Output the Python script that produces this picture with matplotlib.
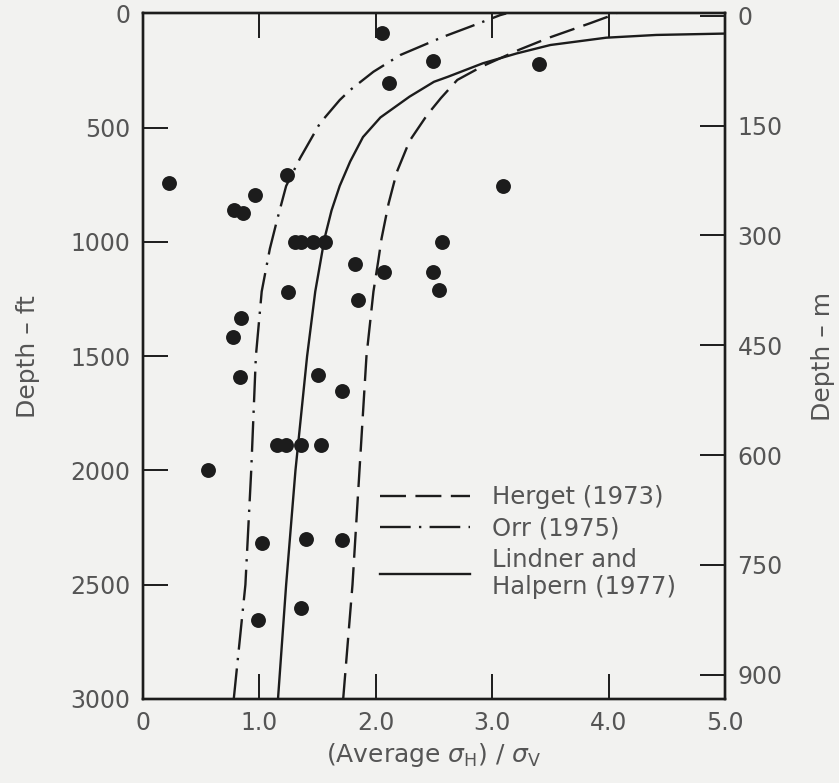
import matplotlib.pyplot as plt

plt.rcParams['font.family'] = ['DejaVu Sans']
plt.rcParams['mathtext.fontset'] = 'dejavusans'

# measured points: ratio (average sigma_H / sigma_V) and depth in ft
ratio = [2.05, 2.49, 2.11, 3.40, 0.22, 1.24, 3.09, 0.96, 0.78, 0.86,
         1.31, 1.36, 1.46, 1.56, 2.57, 1.82, 2.07, 2.49, 2.54, 1.25,
         1.85, 0.84, 0.77, 0.83, 1.50, 1.71, 1.15, 1.23, 1.36, 1.53,
         0.56, 1.02, 1.40, 1.71, 1.36, 0.99]
depth = [87, 208, 306, 221, 740, 707, 753, 794, 860, 875,
         1000, 1000, 1000, 1000, 1000, 1097, 1130, 1130, 1210, 1220,
         1253, 1333, 1416, 1593, 1583, 1650, 1889, 1889, 1889, 1889,
         2000, 2316, 2302, 2305, 2604, 2655]

# curves
herget_x = [1.72, 1.80, 1.86, 1.92, 1.98, 2.02, 2.05, 2.11, 2.18, 2.29, 2.44, 2.56,
            2.70, 2.92, 3.24, 3.50, 3.84, 4.07]
herget_z = [3000, 2500, 2000, 1500, 1217, 1087, 984, 832, 695, 558, 445, 370,
            291, 230, 157, 104, 43, 0]
orr_x = [0.78, 0.88, 0.93, 0.97, 1.02, 1.09, 1.15, 1.23, 1.35, 1.52, 1.69, 1.78,
         1.98, 2.21, 2.58, 2.81, 3.07, 3.12]
orr_z = [3000, 2500, 2000, 1500, 1217, 1030, 908, 755, 633, 481, 379, 335,
         255, 182, 102, 58, 7, 0]
lind_x = [1.16, 1.23, 1.31, 1.41, 1.48, 1.52, 1.56, 1.62, 1.69, 1.78, 1.89, 2.04,
          2.29, 2.50, 2.62, 2.92, 3.21, 3.50, 3.98, 4.41, 5.0]
lind_z = [3000, 2500, 2000, 1500, 1217, 1101, 984, 862, 755, 648, 541, 455,
          364, 299, 277, 218, 175, 138, 106, 94, 88]

xticks = [0, 1, 2, 3, 4, 5]
xlabels = ['0', '1.0', '2.0', '3.0', '4.0', '5.0']
ft_ticks = [0, 500, 1000, 1500, 2000, 2500, 3000]
m_ticks = [0, 150, 300, 450, 600, 750, 900]

bg = '#f2f2f0'
ink = '#1c1c1c'
txt = '#555555'

fig = plt.figure(figsize=(8.39, 7.83), dpi=100, facecolor=bg)
ax = fig.add_axes([0.1704, 0.1073, 0.6937, 0.8755], facecolor=bg)

ax.plot(herget_x, herget_z, color=ink, lw=1.7, ls=(0, (11, 4)), label='Herget (1973)')
ax.plot(orr_x, orr_z, color=ink, lw=1.7, ls=(0, (13, 3.5, 1, 3.5)), label='Orr (1975)')
ax.plot(lind_x, lind_z, color=ink, lw=1.7, label='Lindner and\nHalpern (1977)')
ax.scatter(ratio, depth, s=115, color=ink, zorder=3, linewidths=0)

ax.set_xlim(0, 5)
ax.set_ylim(3000, 0)
ax.set_xticks(xticks)
ax.set_xticklabels(xlabels)
ax.set_yticks(ft_ticks)
ax.tick_params(direction='in', length=18, width=1.4, color=ink, labelsize=17,
               labelcolor=txt, pad=9, top=True)
for s in ax.spines.values():
    s.set_linewidth(1.7)
    s.set_color(ink)

ax.set_xlabel(r'(Average $\sigma_{\mathrm{H}}$) / $\sigma_{\mathrm{V}}$', fontsize=18,
              color=txt, labelpad=4)
ax.set_ylabel('Depth – ft', fontsize=18, color=txt, labelpad=22)

ax2 = ax.twinx()
ax2.set_ylim(933, -3)
ax2.set_yticks(m_ticks)
ax2.tick_params(direction='in', length=18, width=1.4, color=ink, labelsize=17,
                labelcolor=txt, pad=9)
ax2.set_ylabel('Depth – m', fontsize=18, color=txt, labelpad=20)
for s in ax2.spines.values():
    s.set_linewidth(1.7)
    s.set_color(ink)

leg = ax.legend(loc='upper left', bbox_to_anchor=(0.408, 0.312), frameon=False,
                fontsize=17.5, handlelength=3.7, handletextpad=0.9,
                labelspacing=0.3, borderpad=0, borderaxespad=0)
for t in leg.get_texts():
    t.set_color(txt)
    t.set_linespacing(1.15)

fig.savefig('out.png', dpi=100, facecolor=bg)
